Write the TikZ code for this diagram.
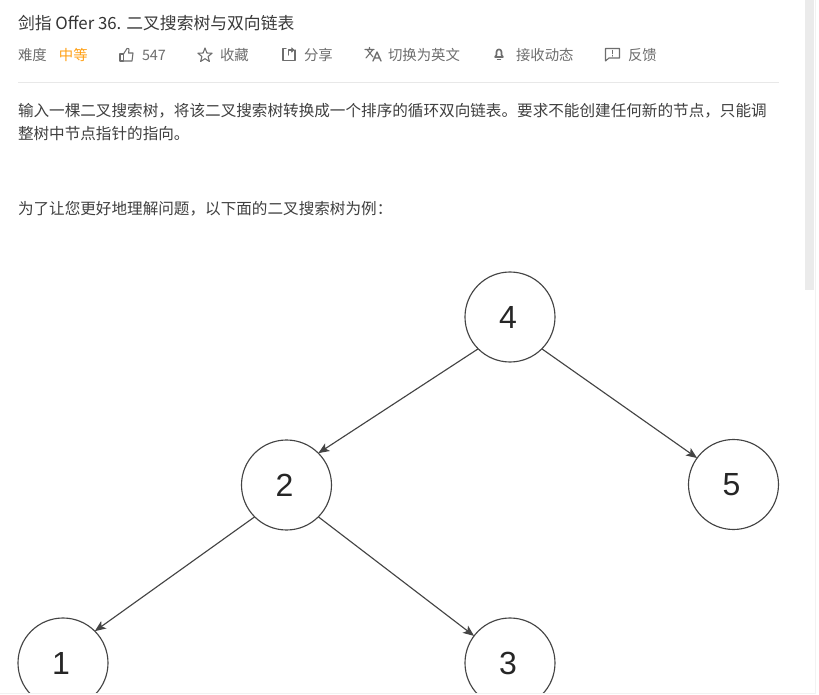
\documentclass[tikz,border=0pt]{standalone}
\usepackage{fontspec}
\setmainfont{Noto Sans CJK SC}
\newfontfamily\numfont{Liberation Sans}
\usetikzlibrary{arrows.meta}
\definecolor{titlec}{HTML}{3A3A3A}
\definecolor{metac}{HTML}{6E6E6E}
\definecolor{bodyc}{HTML}{404040}
\definecolor{orangec}{HTML}{FFA116}
\definecolor{edgec}{HTML}{444444}
\definecolor{rulec}{HTML}{E8E8E8}
\definecolor{barc}{HTML}{EBEBEB}
\definecolor{framec}{HTML}{F2F2F2}
\tikzset{
  titletext/.style={anchor=base west,inner sep=0pt,outer sep=0pt,text=titlec,font=\fontsize{12.6pt}{14pt}\selectfont},
  metatext/.style={anchor=base west,inner sep=0pt,outer sep=0pt,text=metac,font=\fontsize{10.8pt}{13pt}\selectfont},
  bodytext/.style={anchor=base west,inner sep=0pt,outer sep=0pt,text=bodyc,font=\fontsize{11.7pt}{14pt}\selectfont},
  treenode/.style={circle,draw=edgec,fill=white,line width=0.85pt,minimum size=67.5pt,inner sep=0pt,outer sep=0pt,text=black!85,font=\numfont\fontsize{24pt}{28pt}\selectfont,execute at begin node=\hspace*{-3pt}},
  treeedge/.style={draw=edgec,line width=0.85pt,-{Stealth[length=8.25pt,width=6.75pt,inset=2pt]}},
  icon/.style={draw=metac,line width=0.8pt,line join=round,line cap=round}
}
\begin{document}
\begin{tikzpicture}[x=0.75pt,y=-0.75pt]
\useasboundingbox (0,0) rectangle (819,695);
\fill[white] (0,0) rectangle (819,695);
% header
\node[titletext] (title) at (18,30) {剑指 \textcolor{black!80}{Offer 36.} 二叉搜索树与双向链表};
\node[metatext] (diff) at (18,61) {难度};
\node[metatext,text=orangec] (level) at (59,61) {中等};
\node[metatext] (likes) at (142,61) {547};
\node[metatext] (fav) at (220,61) {收藏};
\node[metatext] (share) at (304,61) {分享};
\node[metatext] (trans) at (388,61) {切换为英文};
\node[metatext] (sub) at (516,61) {接收动态};
\node[metatext] (fb) at (628,61) {反馈};
% icons
\draw[icon] (120,54) rectangle (123.5,61);
\draw[icon] (123.5,54) -- (127,48.5) .. controls (128.5,48) and (129.5,49) .. (129,50) -- (128.5,53) -- (133,53) -- (132,61) -- (123.5,61);
\draw[icon] (205,48) -- (206.9,53) -- (212.1,53.2) -- (208.1,56.5) -- (209.4,61.5) -- (205,58.7) -- (200.6,61.5) -- (201.9,56.5) -- (197.9,53.2) -- (203.1,53) -- cycle;
\draw[icon] (286,48.5) -- (283,48.5) -- (283,60.5) -- (295,60.5) -- (295,50);
\draw[icon] (288.5,55) -- (288.5,50) -- (293,50);
\draw[icon] (291.5,48) -- (293.5,50) -- (291.5,52);
\draw[icon] (365,49.5) -- (374,49.5) (369.5,47.5) -- (369.5,49.5) (367,49.5) -- (373,57) (373,49.5) -- (366,58);
\draw[icon,line width=1pt] (373,61) -- (377,52) -- (381,61) (374.5,58) -- (379.5,58);
\draw[icon,line width=1.2pt] (495,57) -- (496.5,55) -- (496.5,52) .. controls (496.5,48.5) and (501.5,48.5) .. (501.5,52) -- (501.5,55) -- (503,57) -- cycle;
\draw[icon] (497.5,59.5) -- (500.5,59.5);
\draw[icon] (605.5,48.5) -- (619.5,48.5) -- (619.5,58) -- (609,58) -- (605.5,61) -- cycle;
\draw[icon] (612.5,50.5) -- (612.5,53.5) (612.5,55.5) -- (612.5,56);
\draw[rulec,line width=0.75pt] (18,82.5) -- (779,82.5);
% body
\node[bodytext] (p1) at (18,116.5) {输入一棵二叉搜索树，将该二叉搜索树转换成一个排序的循环双向链表。要求不能创建任何新的节点，只能调};
\node[bodytext] (p2) at (18,140) {整树中节点指针的指向。};
\node[bodytext] (p3) at (18,214.5) {为了让您更好地理解问题，以下面的二叉搜索树为例：};
% tree
\node[treenode] (n4) at (510,317) {4};
\node[treenode] (n2) at (286.5,485) {2};
\node[treenode] (n5) at (733.5,484.5) {5};
\node[treenode] (n1) at (63,663) {1};
\node[treenode] (n3) at (510,663) {3};
\draw[treeedge] (n4.south west) -- (n2.north east);
\draw[treeedge] (n4.south east) -- (n5.144);
\draw[treeedge] (n2.south west) -- (n1.north east);
\draw[treeedge] (n2.south east) -- (n3.143);
% window edge
\fill[white] (0,693.5) rectangle (819,695);
\draw[framec,line width=0.75pt] (0,694) -- (815.5,694);
\draw[framec,line width=0.75pt] (815.5,0) -- (815.5,694);
\fill[barc] (805,0) rectangle (814,290);
\end{tikzpicture}
\end{document}
